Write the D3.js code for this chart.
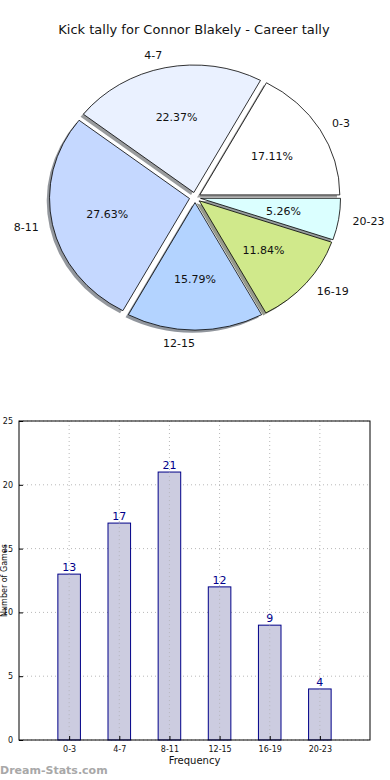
<!DOCTYPE html>
<html><head><meta charset="utf-8">
<script src="https://cdn.jsdelivr.net/npm/d3@7"></script>
<style>body{margin:0;background:#fff}svg{display:block;font-family:"DejaVu Sans",sans-serif}</style>
</head><body>
<svg id="c" width="390" height="780"></svg>
<script>
const categories = ["0-3","4-7","8-11","12-15","16-19","20-23"];
const values = [13,17,21,12,9,4];
const sliceColors = ["#ffffff","#eaf1ff","#c5d8ff","#b3d3ff","#d0e98b","#dbffff"];
const yTicks = [0,5,10,15,20,25];
const title = "Kick tally for Connor Blakely - Career tally";
const xLabel = "Frequency";
const yLabel = "Number of Games";

const svg = d3.select("#c");
svg.append("rect").attr("width",390).attr("height",780).attr("fill","#fff");

// ---------- Pie ----------
svg.append("text").attr("x",194).attr("y",34).attr("text-anchor","middle")
  .attr("font-size",13).attr("fill","#111").text(title);

const cx=195, cy=197.5, rx=140, ry=127.5, explode=0.04, U=100;
const total = d3.sum(values);
const pie = d3.pie().sort(null).startAngle(Math.PI/2).endAngle(Math.PI/2-2*Math.PI);
const arcs = pie(values);
const arc = d3.arc().innerRadius(0).outerRadius(U);
const g = svg.append("g").attr("transform",`translate(${cx},${cy}) scale(${rx/U},${ry/U})`);
const off = d => { const m=(d.startAngle+d.endAngle)/2; return [Math.sin(m)*explode*U, -Math.cos(m)*explode*U]; };
g.selectAll("path.sh").data(arcs).join("path").attr("class","sh")
  .attr("d",arc)
  .attr("transform",d=>{const o=off(d);return `translate(${o[0]-2},${o[1]+2})`;})
  .attr("fill",(d,i)=>{const c=d3.rgb(sliceColors[i]);return d3.rgb(c.r*0.3,c.g*0.3,c.b*0.3);})
  .attr("fill-opacity",0.55);
g.selectAll("path.w").data(arcs).join("path").attr("class","w")
  .attr("d",arc)
  .attr("transform",d=>{const o=off(d);return `translate(${o[0]},${o[1]})`;})
  .attr("fill",(d,i)=>sliceColors[i])
  .attr("stroke","#000").attr("stroke-width",0.8).attr("vector-effect","non-scaling-stroke");

arcs.forEach((d,i)=>{
  const m=(d.startAngle+d.endAngle)/2, s=Math.sin(m), c=-Math.cos(m);
  const lx = cx + (1.1+explode)*rx*s, ly = cy + (1.1+explode)*ry*c;
  svg.append("text").attr("x",lx).attr("y",ly).attr("dy","0.35em")
    .attr("text-anchor", s>0?"start":"end").attr("font-size",11).attr("fill","#111")
    .text(categories[i]);
  const px = cx + (0.6+explode)*rx*s, py = cy + (0.6+explode)*ry*c;
  svg.append("text").attr("x",px).attr("y",py).attr("dy","0.35em")
    .attr("text-anchor","middle").attr("font-size",11).attr("fill","#111")
    .text((values[i]/total*100).toFixed(2)+"%");
});

// ---------- Bars ----------
const L=19,R=370,T=421,B=740;
const x = d3.scaleLinear().domain([-1,categories.length]).range([L,R]);
const y = d3.scaleLinear().domain([0,25]).range([B,T]);
const bw = (x(1)-x(0))*0.45;
const grid = svg.append("g").attr("stroke","#b8b8b8").attr("stroke-width",1).attr("stroke-dasharray","1,3");
yTicks.forEach(t=>grid.append("line").attr("x1",L).attr("x2",R).attr("y1",y(t)).attr("y2",y(t)));
categories.forEach((c,i)=>grid.append("line").attr("x1",x(i)).attr("x2",x(i)).attr("y1",T).attr("y2",B));

svg.append("g").selectAll("rect").data(values).join("rect")
  .attr("x",(d,i)=>x(i)-bw/2).attr("width",bw)
  .attr("y",d=>y(d)).attr("height",d=>B-y(d))
  .attr("fill","#cccce0").attr("stroke","#000088").attr("stroke-width",1);
const grid2 = svg.append("g").attr("stroke","#aaaaaa").attr("stroke-width",1).attr("stroke-dasharray","1,3").attr("opacity",0.6);
categories.forEach((c,i)=>grid2.append("line").attr("x1",x(i)).attr("x2",x(i)).attr("y1",y(values[i])).attr("y2",B));

svg.append("g").selectAll("text").data(values).join("text")
  .attr("x",(d,i)=>x(i)).attr("y",d=>y(d)-3).attr("text-anchor","middle")
  .attr("font-size",11).attr("fill","#00008b").text(d=>d);

svg.append("rect").attr("x",L).attr("y",T).attr("width",R-L).attr("height",B-T)
  .attr("fill","none").attr("stroke","#000").attr("stroke-width",1);

const ya = svg.append("g").attr("transform",`translate(${L},0)`)
  .call(d3.axisLeft(y).tickValues(yTicks).tickSize(-4).tickPadding(6));
ya.select(".domain").remove();
ya.selectAll("text").attr("font-size",8).attr("font-family","DejaVu Sans").attr("fill","#111");
const xa = svg.append("g").attr("transform",`translate(0,${B})`)
  .call(d3.axisBottom(x).tickValues(d3.range(categories.length)).tickFormat(i=>categories[i]).tickSize(-4).tickPadding(6));
xa.select(".domain").remove();
xa.selectAll("text").attr("font-size",8).attr("font-family","DejaVu Sans").attr("fill","#111");

svg.append("text").attr("x",(L+R)/2).attr("y",764).attr("text-anchor","middle")
  .attr("font-size",10).attr("fill","#111").text(xLabel);
svg.append("text").attr("transform",`translate(7,${(T+B)/2}) rotate(-90)`).attr("text-anchor","middle")
  .attr("font-size",8).attr("fill","#111").text(yLabel);

svg.append("text").attr("x",0).attr("y",774).attr("font-size",11).attr("font-weight","bold")
  .attr("fill","#a8a8a8").text("Dream-Stats.com");
</script>
</body></html>
